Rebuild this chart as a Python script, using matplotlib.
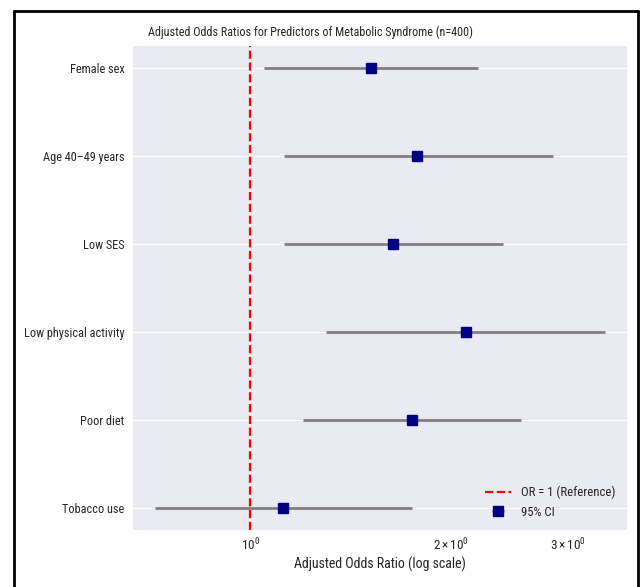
import matplotlib
matplotlib.use("Agg")
import matplotlib.pyplot as plt
from matplotlib.lines import Line2D
import numpy as np

predictors = ["Female sex", "Age 40\u201349 years", "Low SES",
              "Low physical activity", "Poor diet", "Tobacco use"]
odds_ratio = [1.52, 1.78, 1.64, 2.11, 1.75, 1.12]
ci_low = [1.05, 1.125, 1.125, 1.30, 1.20, 0.72]
ci_high = [2.20, 2.85, 2.40, 3.41, 2.55, 1.75]

plt.style.use("seaborn-v0_8-darkgrid")
FONT = ["Roboto Condensed", "Liberation Sans", "DejaVu Sans"]
plt.rcParams["font.family"] = FONT
plt.rcParams["mathtext.fontset"] = "custom"
plt.rcParams["mathtext.rm"] = "Roboto Condensed"
plt.rcParams["mathtext.it"] = "Roboto Condensed:italic"

fig = plt.figure(figsize=(6.41, 5.87), dpi=100)
ax = fig.add_axes([133/641, 1-530/587, (627-133)/641, (530-46)/587])

n = len(predictors)
ypos = np.arange(n)[::-1]
or_arr = np.array(odds_ratio)
lo = np.array(ci_low)
hi = np.array(ci_high)

ax.axvline(1, color="red", linestyle="--", linewidth=1.6, label="OR = 1 (Reference)")
ax.errorbar(or_arr, ypos, xerr=[or_arr - lo, hi - or_arr], fmt="s", color="navy",
            ecolor="gray", elinewidth=2, capsize=0, markersize=7, label="95% CI")
ax.set_xscale("log")
ax.set_yticks(ypos)
ax.set_yticklabels(predictors, fontsize=8.8)
ax.tick_params(axis="x", which="both", labelsize=9.5, pad=4.5)
ax.tick_params(axis="y", pad=6)
ax.set_xlabel("Adjusted Odds Ratio (log scale)", fontsize=10, labelpad=3)
ax.legend(loc="lower right", fontsize=9.2)

fig.text(310/641, 1-32/587, "Adjusted Odds Ratios for Predictors of Metabolic Syndrome (n=400)",
         ha="center", va="center", fontsize=8.7, color="0.15")

# screenshot frame
fig.add_artist(Line2D([14/641, 14/641], [0, 1-11/587], transform=fig.transFigure, color="black", lw=2))
fig.add_artist(Line2D([14/641, 638/641], [1-11/587, 1-11/587], transform=fig.transFigure, color="black", lw=2))
fig.add_artist(Line2D([638/641, 638/641], [0, 1-11/587], transform=fig.transFigure, color="black", lw=2))

fig.savefig("out.png", dpi=100)
